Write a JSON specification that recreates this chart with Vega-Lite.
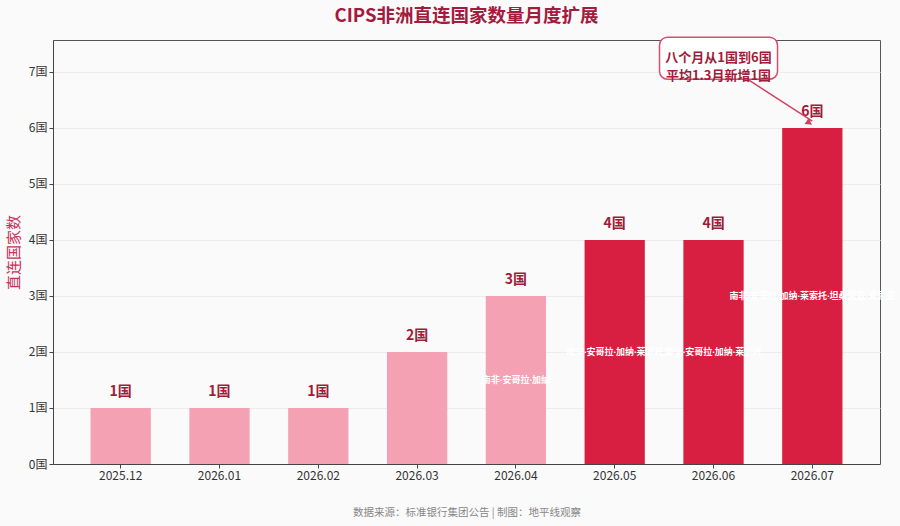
{
  "$schema": "https://vega.github.io/schema/vega-lite/v6.json",
  "width": 827,
  "height": 424,
  "autosize": {"type": "none"},
  "padding": {"left": 53, "top": 40, "right": 20, "bottom": 62},
  "background": "#fafafa",
  "title": {
    "text": "CIPS非洲直连国家数量月度扩展",
    "font": "Noto Sans CJK SC",
    "fontSize": 18.5,
    "fontWeight": "bold",
    "color": "#a31b3d",
    "anchor": "middle",
    "offset": 11
  },
  "config": {
    "font": "Noto Sans CJK SC",
    "view": {"stroke": "#555555", "strokeWidth": 1},
    "axis": {
      "labelFont": "Noto Sans CJK SC",
      "labelFontSize": 12,
      "labelColor": "#333333",
      "domainColor": "#444444",
      "tickColor": "#444444",
      "tickSize": 4
    }
  },
  "datasets": {
    "months": [
      {"month": "2025.12", "count": 1, "label": "1国", "phase": "早期", "countries": ""},
      {"month": "2026.01", "count": 1, "label": "1国", "phase": "早期", "countries": ""},
      {"month": "2026.02", "count": 1, "label": "1国", "phase": "早期", "countries": ""},
      {"month": "2026.03", "count": 2, "label": "2国", "phase": "早期", "countries": ""},
      {"month": "2026.04", "count": 3, "label": "3国", "phase": "早期", "countries": "南非·安哥拉·加纳"},
      {"month": "2026.05", "count": 4, "label": "4国", "phase": "近期", "countries": "南非·安哥拉·加纳·莱索托"},
      {"month": "2026.06", "count": 4, "label": "4国", "phase": "近期", "countries": "南非·安哥拉·加纳·莱索托"},
      {"month": "2026.07", "count": 6, "label": "6国", "phase": "近期", "countries": "南非·安哥拉·加纳·莱索托·坦桑尼亚·肯尼亚"}
    ],
    "note": [
      {"month": "2026.06", "top": 7.62, "bottom": 6.87, "mid": 7.25, "text": ["八个月从1国到6国", "平均1.3月新增1国"]}
    ],
    "arrow": [
      {"month": "2026.06", "to": "2026.07", "start": 6.86, "end": 6.12}
    ],
    "head": [
      {"month": "2026.07", "y": 6.09}
    ]
  },
  "encoding": {
    "x": {
      "field": "month",
      "type": "nominal",
      "sort": null,
      "scale": {"paddingInner": 0.39, "paddingOuter": 0.38},
      "axis": {
        "labelAngle": 0,
        "title": "数据来源：标准银行集团公告 | 制图：地平线观察",
        "titleFontSize": 10.5,
        "titleFontWeight": "normal",
        "titleColor": "#888888",
        "titlePadding": 26
      }
    }
  },
  "layer": [
    {
      "layer": [
        {
          "data": {"name": "months"},
          "mark": {"type": "bar"},
          "encoding": {
            "y": {
              "field": "count",
              "type": "quantitative",
              "scale": {"domain": [0, 7.57], "nice": false},
              "axis": {
                "values": [0, 1, 2, 3, 4, 5, 6, 7],
                "labelExpr": "datum.value + '国'",
                "gridColor": "#ececec",
                "title": "直连国家数",
                "titleColor": "#c8325a",
                "titleFontSize": 15,
                "titleFontWeight": "normal",
                "titlePadding": 7
              }
            },
            "color": {
              "field": "phase",
              "type": "nominal",
              "scale": {"domain": ["早期", "近期"], "range": ["#f4a1b3", "#d91f41"]},
              "legend": null
            }
          }
        },
        {
          "data": {"name": "months"},
          "mark": {"type": "text", "dy": -16, "fontSize": 14, "fontWeight": "bold", "color": "#a01c3a"},
          "encoding": {
            "y": {"field": "count", "type": "quantitative"},
            "text": {"field": "label"}
          }
        },
        {
          "data": {"name": "arrow"},
          "mark": {"type": "rule", "color": "#d0405f", "strokeWidth": 1.5, "xOffset": 35},
          "encoding": {
            "x2": {"field": "to"},
            "y": {"field": "start", "type": "quantitative"},
            "y2": {"field": "end"}
          }
        },
        {
          "data": {"name": "head"},
          "mark": {"type": "point", "shape": "triangle-up", "angle": 125, "size": 55, "filled": true, "opacity": 1, "color": "#d0405f", "xOffset": -3},
          "encoding": {
            "y": {"field": "y", "type": "quantitative"}
          }
        },
        {
          "data": {"name": "note"},
          "mark": {"type": "bar", "width": 118, "cornerRadius": 8, "fill": "#ffffff", "stroke": "#d4506e", "strokeWidth": 1.5, "xOffset": 5},
          "encoding": {
            "y": {"field": "top", "type": "quantitative"},
            "y2": {"field": "bottom"}
          }
        },
        {
          "data": {"name": "note"},
          "mark": {"type": "text", "fontSize": 13, "fontWeight": "bold", "color": "#a01c3a", "lineHeight": 18, "baseline": "middle", "xOffset": 5},
          "encoding": {
            "y": {"field": "mid", "type": "quantitative"},
            "text": {"field": "text"}
          }
        }
      ]
    },
    {
      "data": {"name": "months"},
      "mark": {"type": "text", "font": "Noto Sans, Noto Sans CJK SC", "fontSize": 9, "fontWeight": "bold", "color": "#ffffff"},
      "encoding": {
        "y": {
          "field": "count",
          "type": "quantitative",
          "scale": {"domain": [0, 15.14], "nice": false},
          "axis": null
        },
        "text": {"field": "countries"}
      }
    }
  ],
  "resolve": {"scale": {"y": "independent"}}
}
